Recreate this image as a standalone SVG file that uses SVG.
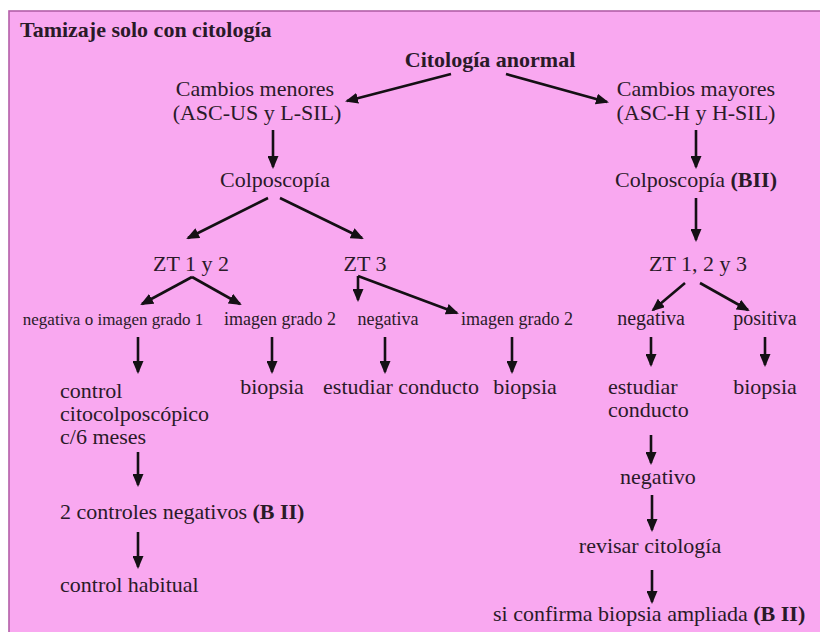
<svg xmlns="http://www.w3.org/2000/svg" width="820" height="632" viewBox="0 0 820 632">
  <style>
    text { font-family: 'Liberation Serif', 'DejaVu Serif', 'Times New Roman', serif; font-size: 22px; fill: #2a1a28; }
    .b { font-weight: bold; }
    .m { text-anchor: middle; }
    .s17 { font-size: 17px; }
    .s18 { font-size: 18px; }
    .s20 { font-size: 20px; }
    .conn line { stroke: #141014; stroke-width: 2.6; marker-end: url(#head); }
  </style>
  <defs>
    <marker id="head" markerUnits="userSpaceOnUse" viewBox="0 0 13 11" markerWidth="13" markerHeight="11" refX="11" refY="5.5" orient="auto">
      <path d="M0,0 L13,5.5 L0,11 z" fill="#141014"/>
    </marker>
  </defs>

  <rect x="0" y="0" width="820" height="632" fill="#ffffff"/>
  <!-- panel -->
  <rect x="9" y="11" width="820" height="640" fill="#f9a8f0" stroke="#b35ea8" stroke-width="1.6"/>

  <g font-family="Liberation Serif, DejaVu Serif, serif">
  <g id="title"><text class="b" x="20" y="37">Tamizaje solo con citología</text></g>

  <g id="citologia-anormal"><text class="b m" x="490" y="67">Citología anormal</text></g>

  <g id="cambios-menores">
    <text class="m" x="255" y="96">Cambios menores</text>
    <text class="m" x="257" y="120">(ASC-US y L-SIL)</text>
  </g>
  <g id="cambios-mayores">
    <text class="m" x="696" y="96">Cambios mayores</text>
    <text class="m" x="696" y="120">(ASC-H y H-SIL)</text>
  </g>

  <g id="colposcopia-1"><text class="m" x="275" y="187">Colposcopía</text></g>
  <g id="colposcopia-2"><text class="m" x="696" y="187">Colposcopía <tspan class="b">(BII)</tspan></text></g>

  <g id="zt12"><text class="m" x="191" y="271">ZT 1 y 2</text></g>
  <g id="zt3"><text class="m" x="365" y="271">ZT 3</text></g>
  <g id="zt123"><text class="m" x="698" y="271">ZT 1, 2 y 3</text></g>

  <g id="neg-grado1"><text class="m s17" x="113" y="325">negativa o imagen grado 1</text></g>
  <g id="grado2-a"><text class="m s18" x="280" y="325">imagen grado 2</text></g>
  <g id="neg-zt3"><text class="m s18" x="388" y="325">negativa</text></g>
  <g id="grado2-b"><text class="m s18" x="517" y="325">imagen grado 2</text></g>
  <g id="neg-right"><text class="m s20" x="651" y="325">negativa</text></g>
  <g id="pos-right"><text class="m s20" x="765" y="325">positiva</text></g>

  <g id="control-cito">
    <text x="60" y="398">control</text>
    <text x="60" y="421">citocolposcópico</text>
    <text x="60" y="444">c/6 meses</text>
  </g>
  <g id="biopsia-a"><text class="m" x="272" y="394">biopsia</text></g>
  <g id="estudiar-a"><text class="m" x="401" y="394">estudiar conducto</text></g>
  <g id="biopsia-b"><text class="m" x="525" y="394">biopsia</text></g>
  <g id="estudiar-b">
    <text x="608" y="394">estudiar</text>
    <text x="608" y="417">conducto</text>
  </g>
  <g id="biopsia-c"><text class="m" x="765" y="394">biopsia</text></g>

  <g id="negativo"><text class="m" x="658" y="484">negativo</text></g>
  <g id="revisar"><text class="m" x="650" y="553">revisar citología</text></g>
  <g id="biopsia-ampliada"><text x="493" y="621">si confirma biopsia ampliada <tspan class="b">(B II)</tspan></text></g>

  <g id="dos-controles"><text x="60" y="519">2 controles negativos <tspan class="b">(B II)</tspan></text></g>
  <g id="control-habitual"><text x="60" y="592">control habitual</text></g>
  </g>

  <g class="conn" id="connectors">
    <line x1="451" y1="74" x2="347" y2="101"/>
    <line x1="506" y1="74" x2="607" y2="102"/>
    <line x1="273" y1="130" x2="273" y2="167"/>
    <line x1="696" y1="130" x2="696" y2="167"/>
    <line x1="268" y1="198" x2="188" y2="238"/>
    <line x1="280" y1="198" x2="362" y2="238"/>
    <line x1="696" y1="198" x2="696" y2="240"/>
    <line x1="192" y1="277" x2="142" y2="304"/>
    <line x1="192" y1="277" x2="240" y2="304"/>
    <line x1="358" y1="276" x2="358" y2="300"/>
    <line x1="358" y1="276" x2="457" y2="313"/>
    <line x1="685" y1="283" x2="653" y2="310"/>
    <line x1="700" y1="283" x2="748" y2="310"/>
    <line x1="138" y1="337" x2="138" y2="372"/>
    <line x1="272" y1="337" x2="272" y2="372"/>
    <line x1="385" y1="337" x2="385" y2="372"/>
    <line x1="512" y1="337" x2="512" y2="372"/>
    <line x1="651" y1="337" x2="651" y2="365"/>
    <line x1="765" y1="337" x2="765" y2="365"/>
    <line x1="651" y1="435" x2="651" y2="463"/>
    <line x1="138" y1="452" x2="138" y2="485"/>
    <line x1="652" y1="495" x2="652" y2="530"/>
    <line x1="138" y1="532" x2="138" y2="567"/>
    <line x1="652" y1="570" x2="652" y2="602"/>
  </g>
</svg>
